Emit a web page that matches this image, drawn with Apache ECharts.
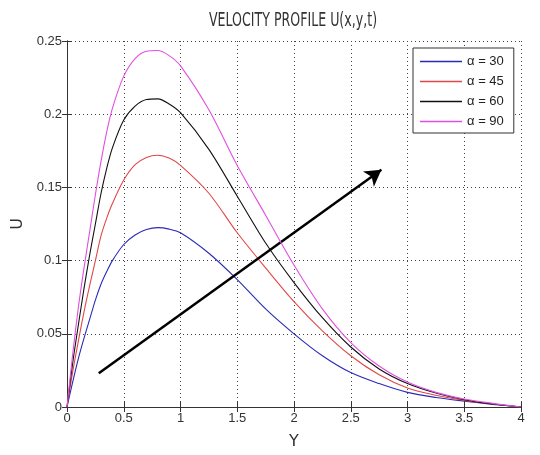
<!DOCTYPE html>
<html>
<head>
<meta charset="utf-8">
<script src="https://cdn.jsdelivr.net/npm/echarts@6/dist/echarts.min.js"></script>
<style>
  html, body { margin: 0; padding: 0; background: #fff; }
  #chart { width: 540px; height: 455px; }
</style>
</head>
<body>
<div id="chart"></div>
<script>
// sample positions along Y
const ys = [0, 0.05, 0.1, 0.15, 0.2, 0.25, 0.3, 0.35, 0.4, 0.5, 0.6, 0.7, 0.8, 0.9, 1.0, 1.25,
  1.5, 1.75, 2.0, 2.25, 2.5, 2.75, 3.0, 3.25, 3.5, 3.75, 4.0];

// U values
const u30 = [0, 0.017, 0.033, 0.047, 0.06, 0.073, 0.084, 0.0925, 0.1, 0.111, 0.1175, 0.1212, 0.1225, 0.1215,
  0.119, 0.105, 0.087, 0.067, 0.050, 0.035, 0.0235, 0.016, 0.010, 0.0065, 0.004, 0.0018, 0];
const u45 = [0, 0.024, 0.045, 0.065, 0.083, 0.1, 0.117, 0.129, 0.139, 0.155, 0.1655, 0.1705, 0.172, 0.170,
  0.165, 0.146, 0.119, 0.095, 0.072, 0.052, 0.035, 0.022, 0.0130, 0.008, 0.0045, 0.002, 0];
const u60 = [0, 0.03, 0.056, 0.081, 0.104, 0.125, 0.146, 0.163, 0.177, 0.196, 0.2055, 0.210, 0.2105, 0.207,
  0.201, 0.176, 0.144, 0.112, 0.085, 0.061, 0.041, 0.026, 0.0160, 0.0095, 0.005, 0.002, 0];
const u90 = [0, 0.036, 0.068, 0.095, 0.12, 0.145, 0.168, 0.188, 0.204, 0.226, 0.238, 0.243, 0.2435, 0.240,
  0.233, 0.203, 0.165, 0.131, 0.097, 0.067, 0.044, 0.028, 0.017, 0.010, 0.0055, 0.0025, 0];

const names = ['\u03b1 = 30', '\u03b1 = 45', '\u03b1 = 60', '\u03b1 = 90'];
const colors = ['#2a2ab8', '#e04848', '#111111', '#e050e0'];

// arrow drawn across the curves
const arrowStart = [0.28, 0.023];
const arrowEnd = [2.77, 0.162];

const font = 'Liberation Sans, Arial, sans-serif';
const pair = (vals) => ys.map((y, i) => [y, vals[i]]);

const chart = echarts.init(document.getElementById('chart'));

const boxAxis = {
  axisLine: { show: true, lineStyle: { color: '#333', width: 1 } },
  axisTick: { show: true, inside: true, length: 5, lineStyle: { color: '#333' } },
  axisLabel: { show: false },
  splitLine: { show: false }
};

const option = {
  animation: false,
  backgroundColor: '#fff',
  graphic: [{
    type: 'text',
    x: 293, y: 21,
    scaleX: 0.63,
    style: {
      text: 'VELOCITY PROFILE U(x,y,t)',
      font: '20px DejaVu Sans, sans-serif',
      fill: '#333',
      align: 'center',
      verticalAlign: 'middle'
    }
  }],
  grid: { left: 67, right: 19, top: 41, bottom: 43 },
  legend: {
    orient: 'vertical',
    left: 413, top: 48,
    icon: 'rect',
    itemWidth: 42, itemHeight: 1.3,
    itemGap: 7,
    padding: [7, 10, 5, 7],
    borderColor: '#333', borderWidth: 1,
    backgroundColor: '#fff',
    textStyle: { fontFamily: font, fontSize: 13, color: '#222' },
    data: names
  },
  xAxis: [{
    type: 'value', min: 0, max: 4, interval: 0.5,
    name: 'Y', nameLocation: 'middle', nameGap: 27,
    nameTextStyle: { fontFamily: 'DejaVu Sans, sans-serif', fontSize: 16, color: '#333' },
    axisLine: { show: true, onZero: false, lineStyle: { color: '#333', width: 1 } },
    axisTick: { show: true, inside: true, length: 5, lineStyle: { color: '#333' } },
    axisLabel: { fontFamily: font, fontSize: 13, color: '#333', margin: 5 },
    splitLine: { show: true, lineStyle: { type: [1, 3], color: '#444', width: 1 } }
  }, Object.assign({ type: 'value', position: 'top', min: 0, max: 4, interval: 0.5 }, boxAxis)],
  yAxis: [{
    type: 'value', min: 0, max: 0.25, interval: 0.05,
    name: 'U', nameLocation: 'middle', nameGap: 40,
    nameTextStyle: { fontFamily: 'DejaVu Sans, sans-serif', fontSize: 16, color: '#333' },
    axisLine: { show: true, onZero: false, lineStyle: { color: '#333', width: 1 } },
    axisTick: { show: true, inside: true, length: 5, lineStyle: { color: '#333' } },
    axisLabel: { fontFamily: font, fontSize: 13, color: '#333', margin: 5 },
    splitLine: { show: true, lineStyle: { type: [1, 3], color: '#444', width: 1 } }
  }, Object.assign({ type: 'value', position: 'right', min: 0, max: 0.25, interval: 0.05 }, boxAxis)],
  series: [u30, u45, u60, u90].map((vals, i) => ({
    name: names[i],
    type: 'line',
    data: pair(vals),
    smooth: 0.3,
    showSymbol: false,
    lineStyle: { color: colors[i], width: 1.1 },
    itemStyle: { color: colors[i] },
    z: 2 + i,
    markLine: i === 0 ? {
      silent: true,
      animation: false,
      label: { show: false },
      lineStyle: { color: '#000', width: 2.5, type: 'solid' },
      symbolSize: [14, 16],
      data: [[
        { coord: arrowStart, symbol: 'none' },
        { coord: arrowEnd, symbol: 'arrow' }
      ]]
    } : undefined
  }))
};

chart.setOption(option);
</script>
</body>
</html>
